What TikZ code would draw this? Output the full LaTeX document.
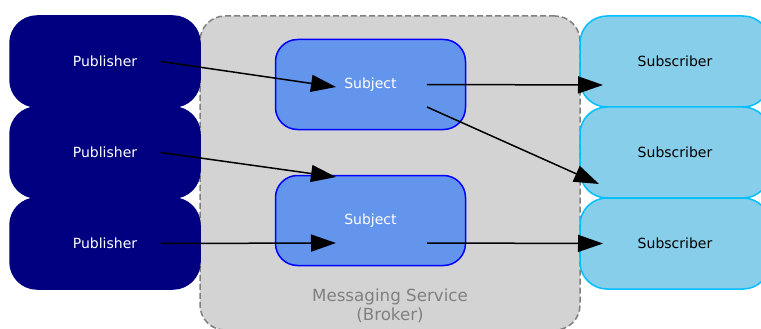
\documentclass[tikz,border=0pt]{standalone}
\usepackage{fontspec}
\setmainfont{DejaVu Sans}
\usetikzlibrary{positioning,arrows.meta}
\definecolor{pubfill}{RGB}{0,0,128}
\definecolor{subjfill}{RGB}{100,149,237}
\definecolor{subjline}{RGB}{0,0,255}
\definecolor{subfill}{RGB}{135,206,235}
\definecolor{subline}{RGB}{0,191,255}
\definecolor{brokerfill}{RGB}{211,211,211}
\definecolor{brokerline}{RGB}{128,128,128}
\tikzset{
  box/.style={rectangle, rounded corners=27pt, minimum width=190pt, minimum height=91pt,
    outer sep=0pt, line width=1.5pt, font=\fontsize{14}{16}\selectfont},
  pub/.style={box, fill=pubfill, draw=pubfill, text=white},
  subj/.style={box, rounded corners=22pt, minimum height=90pt, fill=subjfill, draw=subjline, text=white},
  sub/.style={box, fill=subfill, draw=subline, text=black},
  flow/.style={line width=1.5pt, -{Triangle[length=25pt,width=17pt]}}
}
\begin{document}
\begin{tikzpicture}[x=1pt,y=-1pt]
\useasboundingbox (0,0) rectangle (761,329);
\node(broker) [rectangle, rounded corners=25pt, minimum width=380pt, minimum height=314pt,
  fill=brokerfill, draw=brokerline, line width=1.5pt, dash pattern=on 6pt off 3pt] at (390,173) {};
\node(brokerlabel) [align=center, text=brokerline, font=\fontsize{16.7}{18.5}\selectfont] at (390,306)
  {Messaging Service\\(Broker)};
\node(pub1) [pub] at (105,61.5) {Publisher};
\node(pub2) [pub, below=0pt of pub1] {Publisher};
\node(pub3) [pub, below=0pt of pub2] {Publisher};
\node(subj1) [subj] at (370.5,84.5) {Subject};
\node(subj2) [subj] at (370.5,220.5) {Subject};
\node(sub1) [sub] at (675,61.5) {Subscriber};
\node(sub2) [sub, below=0pt of sub1] {Subscriber};
\node(sub3) [sub, below=0pt of sub2] {Subscriber};
\draw[flow] ([xshift=56pt]pub1.center) -- ([xshift=-34.5pt,yshift=-2.5pt]subj1.center);
\draw[flow] ([xshift=56pt]pub2.center) -- ([xshift=-34.5pt,yshift=43.5pt]subj2.center);
\draw[flow] ([xshift=56pt]pub3.center) -- ([xshift=-34.5pt,yshift=-22.5pt]subj2.center);
\draw[flow] ([xshift=56.5pt]subj1.center) -- ([xshift=-72pt,yshift=-23.5pt]sub1.center);
\draw[flow] ([xshift=56.5pt,yshift=-22.5pt]subj1.center) -- ([xshift=-76pt,yshift=-31.5pt]sub2.center);
\draw[flow] ([xshift=56.5pt,yshift=-22.5pt]subj2.center) -- ([xshift=-72pt]sub3.center);
\end{tikzpicture}
\end{document}
